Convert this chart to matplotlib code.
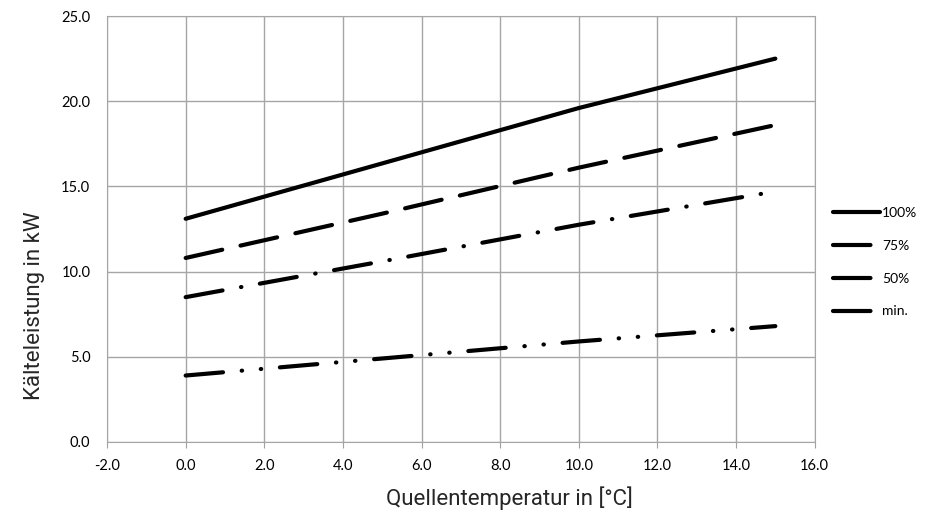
import matplotlib.pyplot as plt

# Quellentemperatur in °C
temp = [0, 5, 10, 15]
p100 = [13.1, 16.35, 19.6, 22.5]
p75 = [10.8, 13.4, 16.1, 18.6]
p50 = [8.5, 10.6, 12.75, 14.7]
pmin = [3.9, 4.9, 5.9, 6.8]

labels = ["100%", "75%", "50%", "min."]
xticks = [-2, 0, 2, 4, 6, 8, 10, 12, 14, 16]
yticks = [0, 5, 10, 15, 20, 25]

fig = plt.figure(figsize=(9.25, 5.22), dpi=100)
ax = fig.add_axes([0.1157, 0.1533, 0.765, 0.816])

lw = 3
ax.plot(temp, p100, color="black", lw=lw, solid_capstyle="round", label=labels[0])
ax.plot(temp, p75, color="black", lw=lw, dash_capstyle="round",
        dashes=(9, 4.5), label=labels[1])
ax.plot(temp, p50, color="black", lw=lw, dash_capstyle="round",
        dashes=(9, 4.5, 0.1, 4.5), label=labels[2])
ax.plot(temp, pmin, color="black", lw=lw, dash_capstyle="round",
        dashes=(9, 4.5, 0.1, 4.5, 0.1, 4.5), label=labels[3])

ax.set_xlim(-2, 16)
ax.set_ylim(0, 25)
ax.set_xticks(xticks)
ax.set_yticks(yticks)
ax.set_xticklabels([f"{v:.1f}" for v in xticks], fontsize=10.5, family="Lato")
ax.set_yticklabels([f"{v:.1f}" for v in yticks], fontsize=10.5, family="Lato")
ax.tick_params(axis="x", length=4, color="#a0a0a0", pad=8)
ax.tick_params(axis="y", length=0, pad=12)
ax.grid(True, color="#a6a6a6", lw=1)
ax.set_axisbelow(True)
for s in ax.spines.values():
    s.set_color("#a6a6a6")

ax.set_xlabel("Quellentemperatur in [°C]", fontsize=16, family="Roboto",
              fontweight="normal", color="#262626")
ax.set_ylabel("Kälteleistung in kW", fontsize=16, family="Roboto",
              fontweight="normal", color="#262626")
ax.xaxis.set_label_coords(0.569, -0.105)
ax.yaxis.set_label_coords(-0.088, 0.32)

leg = fig.legend(loc="upper left", bbox_to_anchor=(0.893, 0.617), frameon=False,
                 handlelength=3.4, handletextpad=0.15, borderpad=0,
                 labelspacing=1.5, prop={"family": "Lato", "size": 10})

fig.savefig("out.png", dpi=100)
